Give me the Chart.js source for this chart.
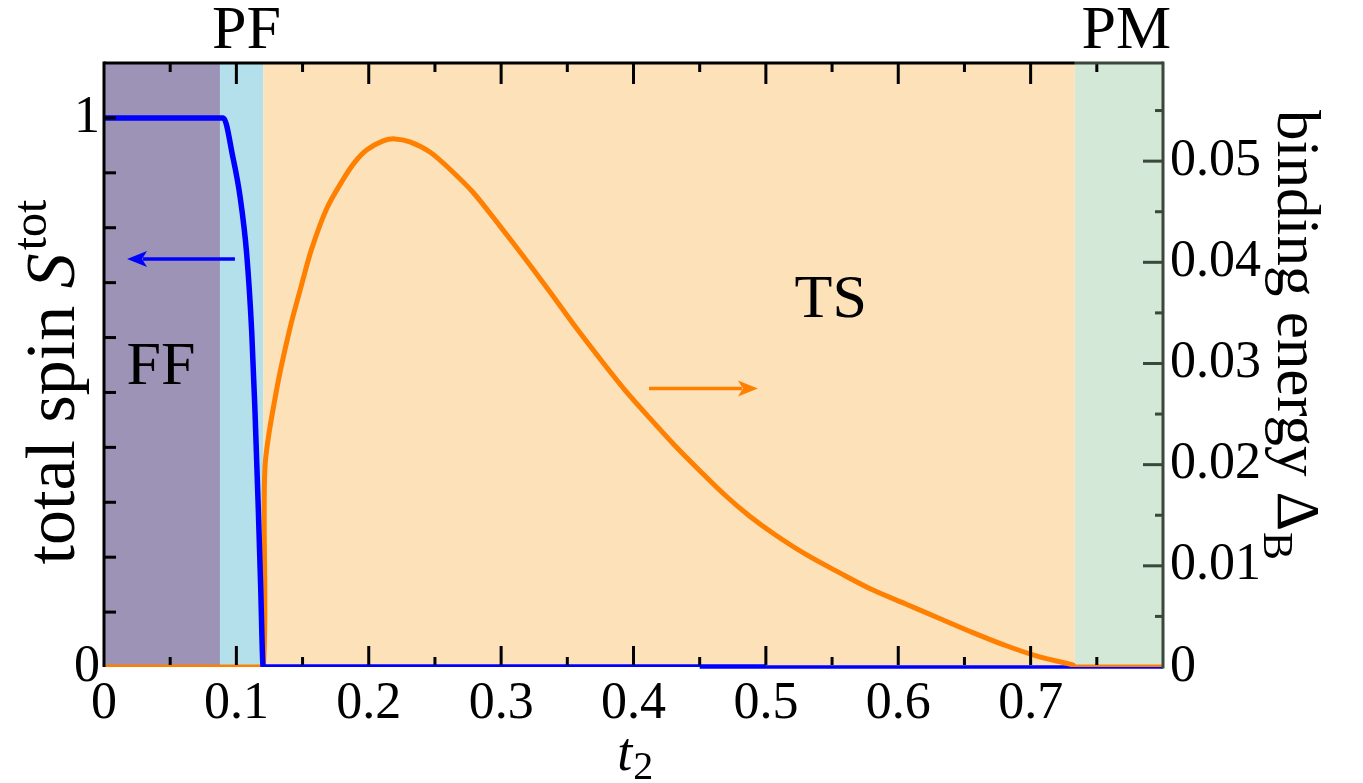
<!DOCTYPE html>
<html>
<head>
<meta charset="utf-8">
<script src="https://cdn.jsdelivr.net/npm/chart.js@4.4.1/dist/chart.umd.min.js"></script>
<style>
  html, body { margin: 0; padding: 0; background: #fff; }
  #wrap { width: 1363px; height: 783px; position: relative; }
</style>
</head>
<body>
<div id="wrap"><canvas id="phaseChart"></canvas></div>
<script>
// total spin S^tot (left axis, blue)
const spinT2  = [0, 0.0901, 0.0974, 0.1027, 0.1078, 0.1116, 0.1140, 0.1165, 0.1183, 0.1203, 0.5];
const spinVal = [1, 1, 0.928, 0.858, 0.752, 0.610, 0.470, 0.293, 0.151, 0, 0];

// binding energy Delta_B (right axis, orange)
const bindT2 = [0, 0.11, 0.1203, 0.1216, 0.1304, 0.1405, 0.1493, 0.1568, 0.1682, 0.1807, 0.1895, 0.1984,
  0.2109, 0.2197, 0.2311, 0.2462, 0.2613, 0.2789, 0.2990, 0.3179, 0.3368, 0.3557, 0.3745, 0.3934,
  0.4123, 0.4312, 0.4501, 0.4690, 0.4878, 0.5067, 0.5306, 0.5558, 0.5809, 0.6061, 0.6313, 0.6564,
  0.6816, 0.7068, 0.7319, 0.7334, 0.8];
const bindVal = [0, 0, 0, 0.0197, 0.0274, 0.0335, 0.0378, 0.0413, 0.0453, 0.0482, 0.0499, 0.0511,
  0.0520, 0.0522, 0.0519, 0.0509, 0.0492, 0.0469, 0.0436, 0.0404, 0.0371, 0.0337, 0.0305, 0.0274,
  0.0246, 0.0219, 0.0194, 0.0170, 0.0149, 0.0131, 0.0111, 0.0093, 0.0076, 0.0062, 0.0048, 0.0034,
  0.0021, 0.0010, 0.0002, 0, 0];

// phases along t2
const phaseEdges  = [0, 0.0876, 0.1203, 0.7334, 0.8];
const phaseNames  = ['FF', 'PF', 'TS', 'PM'];
const phaseColors = ['#9d93b7', '#b3e0ea', '#fde1b9', '#d3e8d6'];

// ticks
const xTicks      = [0, 0.1, 0.2, 0.3, 0.4, 0.5, 0.6, 0.7];
const xMinorTicks = [0.05, 0.15, 0.25, 0.35, 0.45, 0.55, 0.65, 0.75];
const spinTicks   = [0, 1];
const spinMinor   = [0.1, 0.2, 0.3, 0.4, 0.5, 0.6, 0.7, 0.8, 0.9, 1.0];
const bindTicks   = [0, 0.01, 0.02, 0.03, 0.04, 0.05];
const bindMinor   = [0.005, 0.015, 0.025, 0.035, 0.045, 0.055];

const serif = '"Liberation Serif", "DejaVu Serif", serif';
const rightGray = '#3a473c';

function line(ctx, x0, y0, x1, y1) {
  ctx.beginPath(); ctx.moveTo(x0, y0); ctx.lineTo(x1, y1); ctx.stroke();
}

function arrow(ctx, x0, x1, y, color) {
  const dir = Math.sign(x1 - x0), head = 20, half = 8;
  ctx.strokeStyle = color; ctx.fillStyle = color; ctx.lineWidth = 3.5;
  line(ctx, x0, y, x1 - dir * head * 0.8, y);
  ctx.beginPath();
  ctx.moveTo(x1, y);
  ctx.lineTo(x1 - dir * head, y - half);
  ctx.lineTo(x1 - dir * head * 0.75, y);
  ctx.lineTo(x1 - dir * head, y + half);
  ctx.closePath(); ctx.fill();
}

const decor = {
  id: 'decor',
  beforeDatasetsDraw(chart) {
    const { ctx, chartArea: a, scales: { x } } = chart;
    ctx.save();
    phaseNames.forEach((n, i) => {
      const x0 = x.getPixelForValue(phaseEdges[i]);
      const x1 = x.getPixelForValue(phaseEdges[i + 1]);
      ctx.fillStyle = phaseColors[i];
      ctx.fillRect(x0, a.top, x1 - x0, a.bottom - a.top);
    });
    // thin blue base line under the right part of the plot
    ctx.strokeStyle = '#0000ff'; ctx.lineWidth = 3.5;
    line(ctx, x.getPixelForValue(0.45), a.bottom, a.right, a.bottom);
    ctx.restore();
  },
  afterDatasetsDraw(chart) {
    const { ctx, chartArea: a, scales: { x, y, y2 } } = chart;
    ctx.save();
    ctx.lineCap = 'butt';

    // inward ticks
    ctx.lineWidth = 3; ctx.strokeStyle = '#000';
    xTicks.slice(1).forEach(v => {
      const px = x.getPixelForValue(v);
      line(ctx, px, a.bottom - 2, px, a.bottom - 21);
      line(ctx, px, a.top, px, a.top + 21);
    });
    xMinorTicks.forEach(v => {
      const px = x.getPixelForValue(v);
      line(ctx, px, a.bottom - 2, px, a.bottom - 10);
      line(ctx, px, a.top, px, a.top + 9);
    });
    spinMinor.forEach(v => {
      const py = y.getPixelForValue(v);
      line(ctx, a.left, py, a.left + 12, py);
    });
    ctx.strokeStyle = rightGray;
    bindTicks.slice(1).forEach(v => {
      const py = y2.getPixelForValue(v);
      line(ctx, a.right, py, a.right - 20, py);
    });
    bindMinor.forEach(v => {
      const py = y2.getPixelForValue(v);
      line(ctx, a.right, py, a.right - 8, py);
    });

    // frame
    const pmLeft = x.getPixelForValue(phaseEdges[3]);
    ctx.lineWidth = 3;
    ctx.strokeStyle = '#000';
    line(ctx, a.left, a.top, pmLeft, a.top);
    line(ctx, a.left, a.top - 1.5, a.left, a.bottom);
    ctx.strokeStyle = rightGray;
    line(ctx, pmLeft, a.top, a.right, a.top);
    line(ctx, a.right, a.top - 1.5, a.right, a.bottom + 1.5);

    // arrows
    arrow(ctx, x.getPixelForValue(0.0989), x.getPixelForValue(0.0174), y.getPixelForValue(0.743), '#0000ff');
    arrow(ctx, x.getPixelForValue(0.4117), x.getPixelForValue(0.494), y2.getPixelForValue(0.02752), '#ff8000');

    // phase labels
    ctx.fillStyle = '#000';
    ctx.textAlign = 'center';
    ctx.textBaseline = 'alphabetic';
    ctx.font = '62px ' + serif;
    ctx.fillText('FF', x.getPixelForValue(0.043), y.getPixelForValue(0.515));
    ctx.fillText('TS', x.getPixelForValue(0.549), y.getPixelForValue(0.6375));
    ctx.fillText('PF', x.getPixelForValue(0.1076), a.top - 15);
    ctx.fillText('PM', x.getPixelForValue(0.7723), a.top - 15);

    // x title: t_2
    ctx.textAlign = 'left';
    ctx.font = 'italic 54px ' + serif;
    const tw = ctx.measureText('t').width;
    ctx.font = '40px ' + serif;
    const sw = ctx.measureText('2').width;
    const tx = x.getPixelForValue(0.401) - (tw + sw) / 2;
    ctx.font = 'italic 54px ' + serif;
    ctx.fillText('t', tx, 770);
    ctx.font = '40px ' + serif;
    ctx.fillText('2', tx + tw + 1, 779);

    // left title: total spin S^tot
    ctx.save();
    ctx.translate(74, 382);
    ctx.rotate(-Math.PI / 2);
    ctx.font = '70px ' + serif;
    const p1 = 'total spin ';
    const w1 = ctx.measureText(p1).width;
    ctx.font = 'italic 70px ' + serif;
    const w2 = ctx.measureText('S').width;
    ctx.font = '48px ' + serif;
    const w3 = ctx.measureText('tot').width;
    let cx = -(w1 + w2 + w3 + 3) / 2;
    ctx.font = '70px ' + serif; ctx.fillText(p1, cx, 0); cx += w1;
    ctx.font = 'italic 70px ' + serif; ctx.fillText('S', cx, 0); cx += w2 + 3;
    ctx.font = '48px ' + serif; ctx.fillText('tot', cx, -28);
    ctx.restore();

    // right title: binding energy Delta_B
    ctx.save();
    ctx.translate(1278, 110);
    ctx.rotate(Math.PI / 2);
    ctx.font = '61px ' + serif;
    const r1 = 'binding energy \u0394';
    ctx.fillText(r1, 0, 0);
    const rw = ctx.measureText(r1).width;
    ctx.font = '42px ' + serif;
    ctx.fillText('B', rw + 1, 14);
    ctx.restore();

    ctx.restore();
  }
};

const tickFont = { family: serif, size: 52 };

new Chart(document.getElementById('phaseChart'), {
  type: 'scatter',
  data: {
    datasets: [
      {
        label: 'total spin',
        data: spinT2.map((t, i) => ({ x: t, y: spinVal[i] })),
        yAxisID: 'y',
        showLine: true,
        borderColor: '#0000ff',
        borderWidth: 5.5,
        pointRadius: 0,
        cubicInterpolationMode: 'monotone'
      },
      {
        label: 'binding energy',
        data: bindT2.map((t, i) => ({ x: t, y: bindVal[i] })),
        yAxisID: 'y2',
        showLine: true,
        borderColor: '#ff8000',
        borderWidth: 5,
        pointRadius: 0,
        tension: 0.3
      }
    ]
  },
  options: {
    responsive: true,
    maintainAspectRatio: false,
    animation: false,
    layout: { padding: { top: 63, left: 0, right: 0, bottom: 0 } },
    plugins: { legend: { display: false }, tooltip: { enabled: false } },
    scales: {
      x: {
        type: 'linear', min: 0, max: 0.8,
        afterBuildTicks: s => { s.ticks = xTicks.map(v => ({ value: v })); },
        afterFit: s => { s.height = 116; },
        ticks: { font: tickFont, color: '#000', padding: 6, maxRotation: 0, autoSkip: false, callback: v => String(v) },
        grid: { display: false, drawTicks: false },
        border: { display: false }
      },
      y: {
        type: 'linear', position: 'left', min: 0, max: 1.1,
        afterBuildTicks: s => { s.ticks = spinTicks.map(v => ({ value: v })); },
        afterFit: s => { s.width = 104; },
        ticks: { font: tickFont, color: '#000', padding: 4, callback: v => String(v) },
        grid: { display: false, drawTicks: false },
        border: { display: false }
      },
      y2: {
        type: 'linear', position: 'right', min: 0, max: 0.0597,
        afterBuildTicks: s => { s.ticks = bindTicks.map(v => ({ value: v })); },
        afterFit: s => { s.width = 200; },
        ticks: { font: tickFont, color: '#000', padding: 7, callback: v => String(v) },
        grid: { display: false, drawTicks: false },
        border: { display: false }
      }
    }
  },
  plugins: [decor]
});
</script>
</body>
</html>
